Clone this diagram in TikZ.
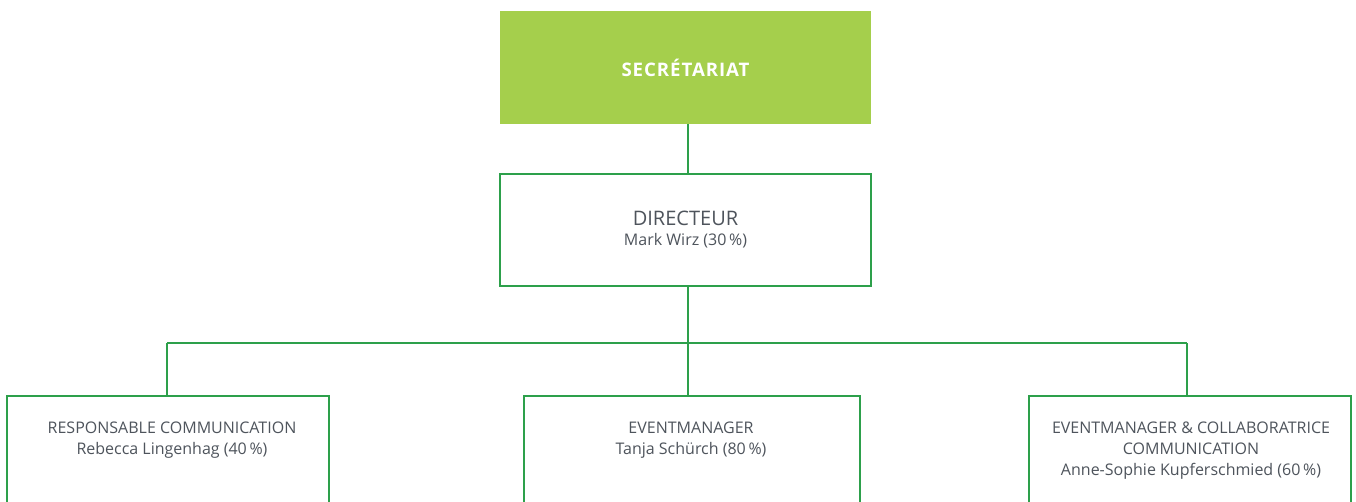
\documentclass[tikz,border=0pt]{standalone}
\usepackage{fontspec}
\setmainfont{Open Sans}
\newfontfamily\secfont[LetterSpace=5]{Open Sans}
\definecolor{boxgreen}{RGB}{165,207,76}
\definecolor{linegreen}{RGB}{45,160,75}
\definecolor{txtgray}{RGB}{78,84,92}
\newcommand{\pxu}{0.75pt}
\begin{document}
\begin{tikzpicture}[x=0.75pt,y=-0.75pt,
  secbox/.style={rectangle, fill=boxgreen, draw=none, minimum width=371*\pxu, minimum height=113*\pxu, inner sep=0pt,
    text=white, font=\secfont\bfseries\fontsize{14pt}{16pt}\selectfont},
  posbox/.style={rectangle, draw=linegreen, line width=2pt, fill=white, inner sep=0pt},
  postext/.style={text=txtgray, align=center, inner sep=0pt, font=\fontsize{12pt}{15.75pt}\selectfont},
  conn/.style={draw=linegreen, line width=2pt}
]
\useasboundingbox (0,0) rectangle (1356,502);
\clip (0,0) rectangle (1356,502);

\coordinate (trunk) at (688,0);
\coordinate (busL) at (167,343);
\coordinate (busM) at (688,343);
\coordinate (busR) at (1187,343);

\node[secbox] (sec) at (685.5,67.5) {SECRÉTARIAT};
\node[posbox, minimum width=371*\pxu, minimum height=112*\pxu, text=txtgray, align=center,
  font=\fontsize{15pt}{17pt}\selectfont] (dir) at (685.5,230)
  {DIRECTEUR\\[-2pt]{\fontsize{12pt}{14pt}\selectfont Mark Wirz (30\,\%)}};

\node[posbox, minimum width=322*\pxu, minimum height=164*\pxu] (lb) at (168,478) {};
\node[posbox, minimum width=336*\pxu, minimum height=164*\pxu] (mb) at (692,478) {};
\node[posbox, minimum width=322*\pxu, minimum height=164*\pxu] (rb) at (1190,478) {};

\draw[conn] (sec.south -| trunk) -- (dir.north -| trunk);
\draw[conn] (dir.south -| trunk) -- (busM);
\draw[conn] (busL) -- (busR);
\draw[conn] (busL) -- (lb.north -| busL);
\draw[conn] (busM) -- (mb.north -| busM);
\draw[conn] (busR) -- (rb.north -| busR);

\node[postext, anchor=north] (lt) at (172,422) {RESPONSABLE COMMUNICATION\\Rebecca Lingenhag (40\,\%)};
\node[postext, anchor=north] (mt) at (691,422) {EVENTMANAGER\\Tanja Schürch (80\,\%)};
\node[postext, anchor=north] (rt) at (1191,422) {EVENTMANAGER \& COLLABORATRICE\\COMMUNICATION\\Anne-Sophie Kupferschmied (60\,\%)};
\end{tikzpicture}
\end{document}
